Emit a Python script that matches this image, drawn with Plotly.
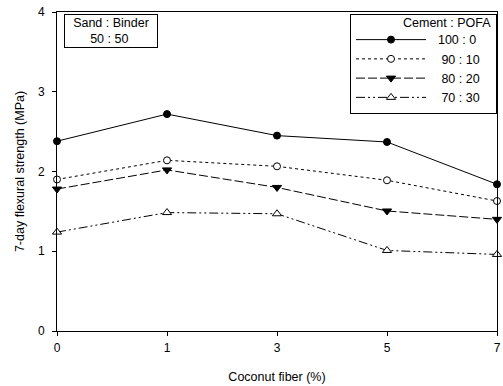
import plotly.graph_objects as go

# Coconut fiber content (%) and 7-day flexural strength (MPa) per Cement : POFA ratio
fiber = ["0", "1", "3", "5", "7"]
mix_labels = ["100 : 0", "90 : 10", "80 : 20", "70 : 30"]
s_100_0 = [2.38, 2.72, 2.45, 2.37, 1.84]
s_90_10 = [1.90, 2.14, 2.065, 1.89, 1.63]
s_80_20 = [1.78, 2.02, 1.80, 1.505, 1.40]
s_70_30 = [1.24, 1.485, 1.47, 1.01, 0.96]

series = [s_100_0, s_90_10, s_80_20, s_70_30]
styles = [
    dict(dash="solid", symbol="circle", fill="black", size=7),
    dict(dash="dot", symbol="circle", fill="white", size=7),
    dict(dash="9px,3px", symbol="triangle-down", fill="black", size=8),
    dict(dash="9px,3px,2px,3px,2px,3px", symbol="triangle-up", fill="white", size=8),
]

FONT = "Liberation Sans, Arial, sans-serif"
NB = "\u00a0"

fig = go.Figure()
for i, (name, vals, st) in enumerate(zip(mix_labels, series, styles)):
    pad = 2 if i == 0 else 3
    fig.add_trace(go.Scatter(
        x=fiber, y=vals, name=NB * pad + name + NB * (6 - pad),
        mode="lines+markers",
        line=dict(color="black", width=1, dash=st["dash"]),
        marker=dict(symbol=st["symbol"], size=st["size"], color=st["fill"],
                    line=dict(color="black", width=1)),
        cliponaxis=False,
    ))

fig.update_layout(
    width=503, height=386,
    margin=dict(l=57, r=2, t=12, b=55),
    paper_bgcolor="white", plot_bgcolor="white",
    font=dict(family=FONT, size=12, color="black"),
    showlegend=True,
    legend=dict(
        x=1.0, y=0.995, xanchor="right", yanchor="top",
        bordercolor="black", borderwidth=1, bgcolor="white",
        itemwidth=70, tracegroupgap=0,
        font=dict(family=FONT, size=12.5, color="black"),
        title=dict(text=NB, side="top",
                   font=dict(family=FONT, size=8, color="black")),
    ),
    xaxis=dict(
        type="category", range=[0, 4],
        title=dict(text="Coconut fiber (%)", standoff=17,
                   font=dict(family=FONT, size=12.5)),
        showline=True, linecolor="black", linewidth=1, mirror=True,
        ticks="outside", ticklen=4, tickcolor="black",
        ticklabelstandoff=2,
        showgrid=False, zeroline=False,
    ),
    yaxis=dict(
        range=[0, 4], dtick=1,
        title=dict(text="7-day flexural strength (MPa)", standoff=10,
                   font=dict(family=FONT, size=12.5)),
        showline=True, linecolor="black", linewidth=1, mirror=True,
        ticks="outside", ticklen=4, tickcolor="black",
        ticklabelstandoff=5,
        showgrid=False, zeroline=False,
    ),
    annotations=[
        dict(
            text="Sand : Binder<br>50 : 50&nbsp;",
            xref="paper", yref="paper", x=0.0165, y=0.993,
            xanchor="left", yanchor="top", showarrow=False, align="center",
            bordercolor="black", borderwidth=1, borderpad=1,
            width=90, font=dict(family=FONT, size=12.5, color="black"),
        ),
        dict(
            text="Cement : POFA",
            xref="paper", yref="paper", x=0.992, y=0.9655,
            xanchor="right", yanchor="middle", showarrow=False,
            font=dict(family=FONT, size=12.5, color="black"),
        ),
    ],
)

fig.write_html("out.html")
